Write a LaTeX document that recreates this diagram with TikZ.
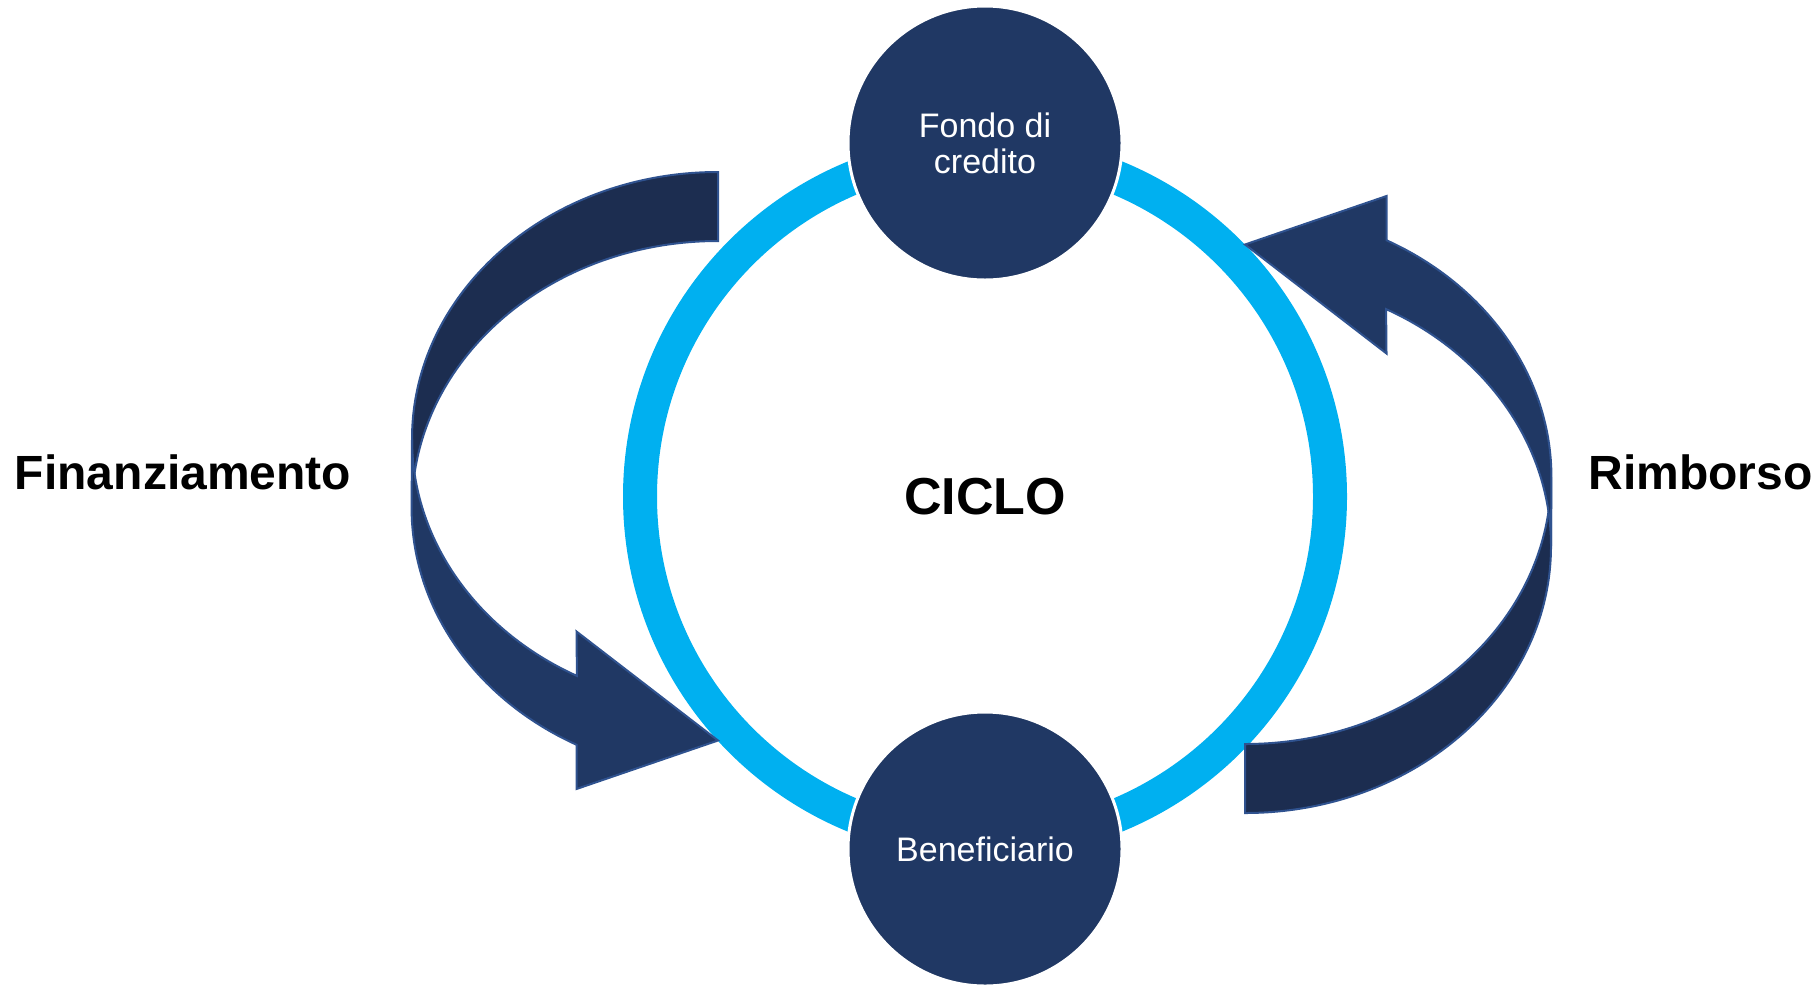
\documentclass[tikz,border=0pt]{standalone}
\usepackage{fontspec}
\setmainfont{Liberation Sans}
\definecolor{navy}{HTML}{203864}
\definecolor{navydark}{HTML}{1C2D50}
\definecolor{edgeblue}{HTML}{2F528F}
\definecolor{ringblue}{HTML}{00B0F0}
\begin{document}
\begin{tikzpicture}[x=1pt,y=-1pt,
  ringstyle/.style={draw=ringblue, line width=34},
  disc/.style={circle, minimum size=274pt, inner sep=0pt, fill=navy, draw=white, line width=3pt,
    text=white, align=center, font=\fontsize{34}{36}\selectfont},
  backpart/.style={fill=navydark, draw=edgeblue, line width=2pt},
  frontpart/.style={fill=navy, draw=edgeblue, line width=2pt},
  sidelabel/.style={anchor=base, font=\bfseries\fontsize{48}{54}\selectfont},
  elli/.style={x radius=306, y radius=267}]
\useasboundingbox (0,0) rectangle (1819,986);
% ring
\draw[ringstyle] (985,496.5) circle[radius=345];
% circles
\node[disc] (fondo) at (985,143) {Fondo di\\credito};
\node[disc] (benef) at (985,849) {Beneficiario};
% left curved arrow
\draw[backpart] (718,241) arc[start angle=270,end angle=180,elli] -- (412,439)
  arc[start angle=180,end angle=270,elli] -- cycle;
\draw[frontpart] (412,439) arc[start angle=180,end angle=117.457,elli]
  -- (576.5,631.49) -- (718,740.5) -- (576.5,788.99) -- (576.5,744.74)
  arc[start angle=117.457,end angle=180,elli] -- cycle;
% right curved arrow (point reflection of the left one)
\begin{scope}[rotate around={180:(981.5,492.5)}]
\draw[backpart] (718,241) arc[start angle=270,end angle=180,elli] -- (412,439)
  arc[start angle=180,end angle=270,elli] -- cycle;
\draw[frontpart] (412,439) arc[start angle=180,end angle=117.457,elli]
  -- (576.5,631.49) -- (718,740.5) -- (576.5,788.99) -- (576.5,744.74)
  arc[start angle=117.457,end angle=180,elli] -- cycle;
\end{scope}
% labels
\node[anchor=base, font=\bfseries\fontsize{52}{58}\selectfont] (ciclo) at (985,514) {CICLO};
\node[sidelabel] (fin) at (183,489) {Finanziamento};
\node[sidelabel] (rimb) at (1700.5,489) {Rimborso};
\end{tikzpicture}
\end{document}
